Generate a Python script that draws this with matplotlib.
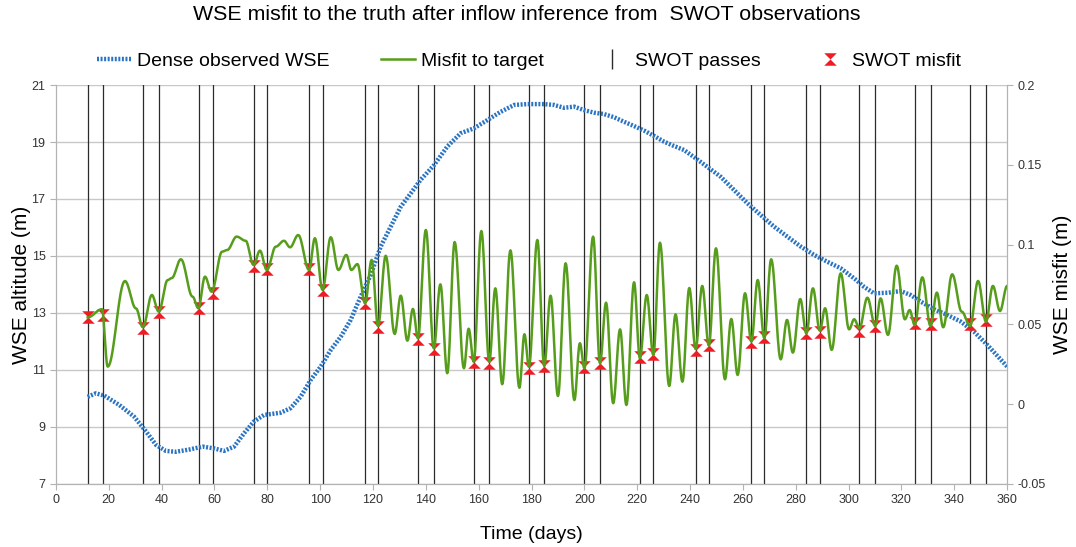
#!/usr/bin/env python3
"""
WSE misfit after inflow inference from SWOT observations:
dense observed WSE (left axis) and misfit to target with SWOT pass misfits (right axis).
"""
import numpy as np
import matplotlib.pyplot as plt
from matplotlib.lines import Line2D
from matplotlib.path import Path

plt.rcParams['font.family'] = ['Liberation Sans', 'DejaVu Sans']

# Dense observed WSE (m)
wse_days = [12.0, 15.1, 18.3, 24.0, 29.6, 34.1, 37.9, 41.6, 45.4, 50.5, 55.5, 59.8,
            63.6, 67.4, 71.2, 74.9, 78.7, 85.0, 88.8, 92.6, 96.4, 100.2, 104.0, 107.8,
            111.5, 115.3, 119.1, 122.9, 126.7, 130.5, 134.3, 138.0, 143.1, 148.1, 153.2,
            158.2, 163.3, 168.3, 173.4, 178.4, 184.7, 188.5, 192.3, 196.1, 199.8, 203.6,
            207.4, 211.2, 215.0, 218.8, 222.6, 226.4, 230.2, 233.9, 237.7, 242.1, 246.5,
            251.6, 256.6, 261.7, 266.7, 271.8, 276.8, 281.9, 286.9, 291.9, 297.0, 302.3,
            305.8, 309.6, 314.7, 319.7, 323.5, 327.3, 332.3, 337.4, 342.4, 347.5, 352.5,
            360.0]
wse_vals = [10.06, 10.18, 10.10, 9.77, 9.36, 8.84, 8.37, 8.16, 8.13, 8.21, 8.31, 8.25,
            8.16, 8.31, 8.78, 9.19, 9.42, 9.50, 9.66, 10.06, 10.65, 11.12, 11.70, 12.17,
            12.75, 13.57, 14.33, 15.33, 16.03, 16.73, 17.20, 17.67, 18.19, 18.84, 19.31,
            19.48, 19.77, 20.06, 20.30, 20.33, 20.33, 20.30, 20.20, 20.24, 20.12, 20.03,
            19.98, 19.87, 19.71, 19.56, 19.40, 19.21, 19.01, 18.86, 18.72, 18.43, 18.13,
            17.78, 17.32, 16.85, 16.44, 16.03, 15.68, 15.33, 15.04, 14.80, 14.57, 14.20,
            13.92, 13.69, 13.71, 13.77, 13.63, 13.40, 13.13, 12.93, 12.70, 12.34, 11.88,
            11.12]

# Misfit to target (m): turning points of the curve
misfit_days = [12.0, 17.4, 19.6, 26.1, 30.3, 32.9, 36.3, 38.9, 42.3, 43.8, 47.3, 51.7,
               53.9, 56.4, 58.9, 62.9, 64.8, 68.4, 71.8, 74.8, 77.2, 79.8, 83.2, 86.3,
               88.6, 91.7, 95.8, 98.0, 100.9, 104.0, 106.9, 109.9, 111.8, 114.1, 117.0,
               119.5, 121.9, 124.8, 128.2, 130.5, 133.0, 135.1, 137.0, 140.0, 143.0,
               145.5, 148.1, 150.9, 154.4, 156.2, 158.1, 161.0, 164.0, 166.3, 168.9,
               172.0, 175.4, 177.3, 179.0, 182.2, 184.8, 187.2, 190.0, 192.9, 196.2,
               198.3, 200.0, 203.3, 205.9, 208.2, 210.9, 213.5, 215.9, 218.8, 221.0,
               223.6, 226.1, 228.6, 232.1, 234.5, 237.1, 239.7, 242.1, 244.6, 247.1,
               249.8, 253.2, 255.6, 258.0, 260.8, 263.2, 265.6, 268.1, 270.7, 274.3,
               276.7, 278.9, 281.7, 284.0, 286.5, 289.1, 291.1, 293.6, 297.0, 300.2,
               302.1, 304.1, 307.1, 310.1, 312.1, 314.9, 318.2, 321.3, 323.1, 325.0,
               327.9, 331.0, 333.4, 335.8, 339.2, 342.8, 346.0, 349.0, 352.0, 354.6,
               357.3, 360.0]
misfit_vals = [0.0544, 0.0595, 0.0235, 0.0772, 0.0600, 0.0482, 0.0684, 0.0580, 0.0778,
               0.0790, 0.0908, 0.0674, 0.0601, 0.0799, 0.0705, 0.0956, 0.0966, 0.1050,
               0.1024, 0.0872, 0.0962, 0.0841, 0.0987, 0.1024, 0.0983, 0.1060, 0.0841,
               0.1040, 0.0716, 0.1046, 0.0841, 0.0935, 0.0841, 0.0878, 0.0632, 0.0904,
               0.0490, 0.0930, 0.0440, 0.0680, 0.0398, 0.0597, 0.0413, 0.1092, 0.0350,
               0.0751, 0.0194, 0.1016, 0.0225, 0.0473, 0.0266, 0.1085, 0.0266, 0.0726,
               0.0125, 0.0964, 0.0103, 0.0438, 0.0235, 0.1029, 0.0239, 0.0680, 0.0051,
               0.0883, 0.0026, 0.0382, 0.0225, 0.1050, 0.0256, 0.0636, 0.0006, 0.0469,
               -0.0005, 0.0764, 0.0288, 0.0684, 0.0308, 0.1012, 0.0114, 0.0563, 0.0141,
               0.0728, 0.0345, 0.0741, 0.0367, 0.0977, 0.0156, 0.0534, 0.0183, 0.0695,
               0.0392, 0.0778, 0.0413, 0.0908, 0.0281, 0.0528, 0.0323, 0.0659, 0.0444,
               0.0726, 0.0461, 0.0601, 0.0340, 0.0820, 0.0469, 0.0532, 0.0476, 0.0667,
               0.0490, 0.0663, 0.0434, 0.0868, 0.0532, 0.0590, 0.0496, 0.0795, 0.0490,
               0.0699, 0.0482, 0.0814, 0.0580, 0.0490, 0.0772, 0.0517, 0.0741, 0.0584,
               0.0741]

# SWOT passes (days) and misfit at each pass (m)
swot_days = [12.0, 17.9, 32.9, 38.9, 54.0, 59.3, 74.8, 79.9, 95.8, 101.1, 116.9, 122.0,
             137.0, 143.0, 158.1, 164.0, 179.0, 184.8, 200.0, 205.9, 221.0, 226.1,
             242.1, 247.1, 263.2, 268.1, 284.0, 289.1, 304.1, 310.1, 325.0, 331.0,
             346.0, 352.0]
swot_misfit = [0.0544, 0.0559, 0.0476, 0.0576, 0.0601, 0.0695, 0.0868, 0.0845, 0.0847,
               0.0716, 0.0632, 0.0486, 0.0409, 0.0346, 0.0263, 0.0260, 0.0225, 0.0239,
               0.0233, 0.0260, 0.0298, 0.0315, 0.0342, 0.0369, 0.0390, 0.0419, 0.0444,
               0.0451, 0.0459, 0.0490, 0.0507, 0.0503, 0.0501, 0.0529]

x_ticks = list(range(0, 361, 20))
left_ticks = [7, 9, 11, 13, 15, 17, 19, 21]
right_ticks = [-0.05, 0, 0.05, 0.1, 0.15, 0.2]
right_labels = ['-0.05', '0', '0.05', '0.1', '0.15', '0.2']

GREEN = '#579d1c'
BLUE = '#2a74c4'
RED = '#ee1c25'


def smooth_line(xs, ys, n=16):
    # ease between turning points so the curve is flat at peaks and troughs
    sx, sy = [], []
    for i in range(len(xs) - 1):
        t = np.linspace(0, 1, n, endpoint=False)
        w = (1 - np.cos(np.pi * t)) / 2
        sx.extend(xs[i] + (xs[i + 1] - xs[i]) * t)
        sy.extend(ys[i] + (ys[i + 1] - ys[i]) * w)
    sx.append(xs[-1])
    sy.append(ys[-1])
    return sx, sy


# hourglass marker for SWOT misfit
hourglass = Path([(-1, 1), (1, 1), (0, 0), (1, -1), (-1, -1), (0, 0), (-1, 1)],
                 [Path.MOVETO, Path.LINETO, Path.LINETO, Path.LINETO,
                  Path.LINETO, Path.LINETO, Path.CLOSEPOLY])

fig = plt.figure(figsize=(10.76, 5.47), dpi=100)
ax = fig.add_axes([0.052, 0.1152, 0.884, 0.7294])
ax2 = ax.twinx()

ax.set_xlim(0, 360)
ax.set_ylim(7, 21)
ax2.set_ylim(-0.05, 0.2)

ax.set_xticks(x_ticks)
ax.set_yticks(left_ticks)
ax2.set_yticks(right_ticks, labels=right_labels)

ax.grid(axis='y', color='#c8c8c8', linewidth=1)
ax.set_axisbelow(True)

for d in swot_days:
    ax.axvline(d, color='#2b2b2b', linewidth=0.9, zorder=2)

ax.plot(wse_days, wse_vals, color=BLUE, linewidth=3.2,
        linestyle=(0, (0.45, 0.35)), zorder=3)

sx, sy = smooth_line(misfit_days, misfit_vals)
ax2.plot(swot_days, swot_misfit, linestyle='none', marker=hourglass,
         markersize=9, color=RED, markeredgewidth=0, zorder=3)
ax2.plot(sx, sy, color=GREEN, linewidth=1.8, zorder=4)

for a in (ax, ax2):
    for s in a.spines.values():
        s.set_color('#b3b3b3')
    a.spines['top'].set_visible(False)
    a.tick_params(colors='#b3b3b3', labelcolor='#333333', labelsize=9, length=4)

ax.set_xlabel('Time (days)', fontsize=14, labelpad=14)
ax.set_ylabel('WSE altitude (m)', fontsize=15, va='center', ha='center')
ax.yaxis.set_label_coords(-0.036, 0.5)
ax2.set_ylabel('WSE misfit (m)', fontsize=15, rotation=90, va='center', ha='center')
ax2.yaxis.set_label_coords(1.058, 0.5)

fig.suptitle('WSE misfit to the truth after inflow inference from  SWOT observations',
             fontsize=15.4, x=0.49, y=0.99)

handles = [
    Line2D([], [], color=BLUE, linewidth=3.2, linestyle=(0, (0.45, 0.35))),
    Line2D([], [], color=GREEN, linewidth=1.8),
    Line2D([], [], color='#2b2b2b', linestyle='none', marker='|', markersize=14,
           markeredgewidth=1),
    Line2D([], [], color=RED, linestyle='none', marker=hourglass, markersize=9,
           markeredgewidth=0),
]
labels = ['Dense observed WSE', 'Misfit to target', 'SWOT passes', 'SWOT misfit']
fig.legend(handles, labels, loc='center', bbox_to_anchor=(0.492, 0.888), ncol=4,
           frameon=False, fontsize=14, handlelength=1.75, handletextpad=0.3,
           columnspacing=2.65)

fig.savefig('out.png', dpi=100)
